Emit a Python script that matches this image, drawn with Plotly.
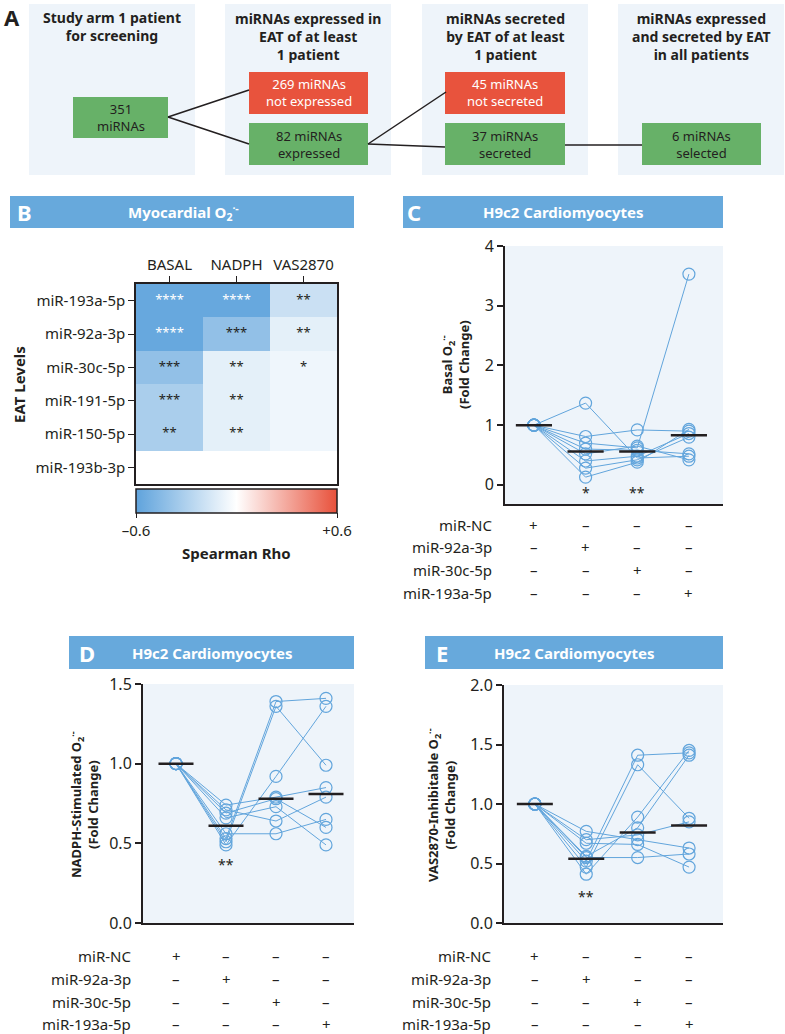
import plotly.graph_objects as go

W, H = 785, 1034
FONT = "Noto Sans"
DARK = "#231f20"
BLUE = "#62a5dc"
HEAD = "#67a9dc"
PANEL_BG = "#eef4fa"
GREEN = "#67b168"
RED = "#e8533d"


def fx(p):
    return p / W


def fy(p):
    return 1 - p / H


# ---- Panel A: flujo de selección
flow_titles = ["Study arm 1 patient<br>for screening",
               "miRNAs expressed in<br>EAT of at least<br>1 patient",
               "miRNAs secreted<br>by EAT of at least<br>1 patient",
               "miRNAs expressed<br>and secreted by EAT<br>in all patients"]
flow_counts = [351, 269, 82, 45, 37, 6]
flow_labels = ["<br>miRNAs", " miRNAs<br>not expressed", " miRNAs<br>expressed",
               " miRNAs<br>not secreted", " miRNAs<br>secreted", " miRNAs<br>selected"]

# ---- Panel B: heatmap
mirnas = ["miR-193a-5p", "miR-92a-3p", "miR-30c-5p", "miR-191-5p", "miR-150-5p", "miR-193b-3p"]
treatments = ["BASAL", "NADPH", "VAS2870"]
rho = [[-0.57, -0.57, -0.20],
       [-0.57, -0.41, -0.10],
       [-0.41, -0.10, -0.06],
       [-0.32, -0.10, -0.06],
       [-0.32, -0.10, -0.06],
       [0.0, 0.0, 0.0]]
stars = [["****", "****", "**"],
         ["****", "***", "**"],
         ["***", "**", "*"],
         ["***", "**", ""],
         ["**", "**", ""],
         ["", "", ""]]

# ---- Panels C-E
groups = [0, 1, 2, 3]
conditions = ["miR-NC", "miR-92a-3p", "miR-30c-5p", "miR-193a-5p"]

basal = [[1, 1.37, 0.45, 0.48],
         [1, 0.81, 0.92, 0.90],
         [1, 0.70, 0.62, 3.53],
         [1, 0.60, 0.58, 0.52],
         [1, 0.52, 0.65, 0.42],
         [1, 0.40, 0.48, 0.86],
         [1, 0.28, 0.42, 0.80],
         [1, 0.13, 0.38, 0.93]]
basal_median = [1.0, 0.56, 0.56, 0.83]
basal_sig = ["", "*", "**", ""]

nadph = [[1, 0.53, 1.39, 1.41],
         [1, 0.51, 1.36, 0.99],
         [1, 0.49, 0.92, 1.36],
         [1, 0.74, 0.79, 0.85],
         [1, 0.71, 0.64, 0.79],
         [1, 0.69, 0.78, 0.60],
         [1, 0.66, 0.73, 0.49],
         [1, 0.56, 0.56, 0.65]]
nadph_median = [1.0, 0.61, 0.78, 0.81]
nadph_sig = ["", "**", "", ""]

vas = [[1, 0.52, 1.41, 1.43],
       [1, 0.47, 1.33, 0.88],
       [1, 0.41, 0.89, 1.45],
       [1, 0.56, 0.80, 1.41],
       [1, 0.77, 0.70, 0.63],
       [1, 0.70, 0.74, 0.85],
       [1, 0.67, 0.66, 0.47],
       [1, 0.55, 0.55, 0.58]]
vas_median = [1.0, 0.54, 0.76, 0.82]
vas_sig = ["", "**", "", ""]

fig = go.Figure()
shapes = []
annotations = []


def text(x, y, t, size=13, color=DARK, bold=False, xanchor="center", yanchor="middle",
         xref="paper", yref="paper", angle=0):
    if bold:
        t = "<b>" + t + "</b>"
    annotations.append(dict(x=x, y=y, xref=xref, yref=yref, text=t, showarrow=False,
                            xanchor=xanchor, yanchor=yanchor, textangle=angle,
                            font=dict(size=size, color=color, family=FONT)))


def rect(x0, y0, x1, y1, fill):
    shapes.append(dict(type="rect", xref="paper", yref="paper", x0=fx(x0), x1=fx(x1),
                       y0=fy(y0), y1=fy(y1), fillcolor=fill, line=dict(width=0), layer="below"))


def seg(x0, y0, x1, y1):
    shapes.append(dict(type="line", xref="paper", yref="paper", x0=fx(x0), x1=fx(x1),
                       y0=fy(y0), y1=fy(y1), line=dict(color=DARK, width=1.5)))


# Panel A
text(fx(12), fy(17), "A", size=22, bold=True)
col_x = [29, 225, 422, 618]
for cx, t in zip(col_x, flow_titles):
    rect(cx, 4, cx + 166, 175, PANEL_BG)
    n = t.count("<br>") + 1
    text(fx(cx + 83), fy(17 + (n - 1) * 10), t, size=14, bold=True)

boxes = [(73, 97, 168, 138, GREEN), (249, 72, 368, 114, RED), (249, 123, 368, 165, GREEN),
         (445, 72, 565, 114, RED), (445, 123, 565, 165, GREEN), (642, 123, 761, 165, GREEN)]
for (x0, y0, x1, y1, c), n, lab in zip(boxes, flow_counts, flow_labels):
    rect(x0, y0, x1, y1, c)
    text(fx((x0 + x1) / 2), fy((y0 + y1) / 2), f"{n}{lab}", size=13,
         color="white" if c == RED else DARK)
seg(168, 117, 249, 90)
seg(168, 117, 249, 144)
seg(368, 144, 446, 92)
seg(368, 144, 445, 147)
seg(565, 145, 642, 145)

# Panel headers
headers = [(10, 354, 196, 228, "B", 24, "Myocardial O<sub>2</sub><sup>·-</sup>", 183),
           (403, 723, 196, 228, "C", 414, "H9c2 Cardiomyocytes", 563),
           (69, 354, 636, 669, "D", 87, "H9c2 Cardiomyocytes", 212),
           (425, 723, 636, 669, "E", 442, "H9c2 Cardiomyocytes", 574)]
for x0, x1, y0, y1, letter, lx, title, tx in headers:
    rect(x0, y0, x1, y1, HEAD)
    text(fx(lx), fy((y0 + y1) / 2), letter, size=22, color="white", bold=True)
    text(fx(tx), fy((y0 + y1) / 2), title, size=15, color="white", bold=True)

# Panel B heatmap
fig.add_trace(go.Heatmap(
    z=rho, x=treatments, y=mirnas, zmin=-0.6, zmax=0.6, xaxis="x", yaxis="y",
    colorscale=[[0, "#5fa3dc"], [0.5, "#ffffff"], [1, "#e8513b"]],
    hoverinfo="skip",
    colorbar=dict(orientation="h", thickness=24, thicknessmode="pixels",
                  len=201, lenmode="pixels", x=fx(236.5), xanchor="center",
                  y=fy(489), yanchor="top", xpad=0, ypad=0,
                  outlinewidth=1.5, outlinecolor=DARK,
                  tickvals=[-0.6, 0.6], ticktext=["–0.6", "+0.6"],
                  ticks="outside", ticklen=5, tickcolor=DARK,
                  tickfont=dict(size=15, color=DARK, family=FONT))))
text(fx(236), fy(553), "Spearman Rho", size=15, bold=True)

# asteriscos, solo en las celdas que los tienen
sx, sy, st, sc = [], [], [], []
for i, m in enumerate(mirnas):
    for j, t in enumerate(treatments):
        if not stars[i][j]:
            continue
        sx.append(t)
        sy.append(m)
        st.append(stars[i][j])
        sc.append("white" if rho[i][j] <= -0.5 else DARK)
fig.add_trace(go.Scatter(x=sx, y=sy, text=st, mode="text", xaxis="x", yaxis="y",
                         textfont=dict(size=13, color=sc, family=FONT),
                         textposition="middle center", hoverinfo="skip", showlegend=False))

text(fx(19), fy(385), "EAT Levels", size=15, bold=True, angle=-90)

# Panels C-E
panels = [("x2", "y2", basal, basal_median, basal_sig, "Basal O<sub>2</sub><sup>·-</sup>",
           455, 365, 494, [525, 547, 570, 593], -0.13),
          ("x3", "y3", nadph, nadph_median, nadph_sig, "NADPH-Stimulated O<sub>2</sub><sup>·-</sup>",
           84, 805, 133, [956, 979, 1002, 1024], 0.37),
          ("x4", "y4", vas, vas_median, vas_sig, "VAS2870-Inhibitable O<sub>2</sub><sup>·-</sup>",
           441, 805, 493, [956, 979, 1002, 1024], 0.22)]

for xa, ya, data, med, sig, ytitle, tx, ty, lab_x, rows, sig_y in panels:
    for exp in data:
        fig.add_trace(go.Scatter(x=groups, y=exp, xaxis=xa, yaxis=ya, mode="lines+markers",
                                 line=dict(color=BLUE, width=1),
                                 marker=dict(symbol="circle-open", size=12, color=BLUE,
                                             line=dict(width=1.2, color=BLUE)),
                                 hoverinfo="skip", showlegend=False))
    mx, my = [], []
    for g, m in zip(groups, med):
        mx += [g - 0.35, g + 0.35, None]
        my += [m, m, None]
    fig.add_trace(go.Scatter(x=mx, y=my, xaxis=xa, yaxis=ya, mode="lines",
                             line=dict(color=DARK, width=2.5), hoverinfo="skip", showlegend=False))
    for g, s in zip(groups, sig):
        if s:
            text(g, sig_y, s, size=14, xref=xa, yref=ya)
    text(fx(tx), fy(ty), ytitle + "<br>(Fold Change)", size=13, bold=True, angle=-90)
    for r, (cond, rowy) in enumerate(zip(conditions, rows)):
        text(fx(lab_x), fy(rowy), cond, size=15, xanchor="right")
        for g in groups:
            text(g, fy(rowy), "+" if g == r else "–", size=15, xref=xa)

axis_common = dict(showgrid=False, zeroline=False, linecolor=DARK, color=DARK)
fig.update_layout(
    width=W, height=H, margin=dict(l=0, r=0, t=0, b=0, pad=0, autoexpand=False),
    paper_bgcolor="white", plot_bgcolor=PANEL_BG,
    font=dict(family=FONT, color=DARK),
    showlegend=False,
    shapes=shapes, annotations=annotations,
    xaxis=dict(domain=[fx(136), fx(337)], anchor="y", side="top", type="category",
               ticks="outside", ticklen=6, tickcolor=DARK, showline=True, mirror=True,
               linewidth=1.5, tickfont=dict(size=15), **axis_common),
    yaxis=dict(domain=[fy(484), fy(284)], anchor="x", type="category", autorange="reversed",
               ticks="outside", ticklen=6, tickcolor=DARK, showline=True, mirror=True,
               linewidth=1.5, tickfont=dict(size=15), **axis_common),
    xaxis2=dict(domain=[fx(505), fx(723)], anchor="y2", range=[-0.56, 3.66],
                showticklabels=False, showline=True, linewidth=2, **axis_common),
    yaxis2=dict(domain=[fy(504), fy(246)], anchor="x2", range=[-0.32, 4],
                tickvals=[0, 1, 2, 3, 4], ticks="outside", ticklen=6, tickwidth=2,
                tickcolor=DARK, showline=True, linewidth=2, tickfont=dict(size=16), **axis_common),
    xaxis3=dict(domain=[fx(143), fx(354)], anchor="y3", range=[-0.66, 3.56],
                showticklabels=False, showline=True, linewidth=2, **axis_common),
    yaxis3=dict(domain=[fy(923), fy(684)], anchor="x3", range=[0, 1.5],
                tickvals=[0, 0.5, 1, 1.5], ticktext=["0.0", "0.5", "1.0", "1.5"],
                ticks="outside", ticklen=6, tickwidth=2, tickcolor=DARK,
                showline=True, linewidth=2, tickfont=dict(size=16), **axis_common),
    xaxis4=dict(domain=[fx(504), fx(723)], anchor="y4", range=[-0.6, 3.66],
                showticklabels=False, showline=True, linewidth=2, **axis_common),
    yaxis4=dict(domain=[fy(923), fy(685)], anchor="x4", range=[0, 2],
                tickvals=[0, 0.5, 1, 1.5, 2], ticktext=["0.0", "0.5", "1.0", "1.5", "2.0"],
                ticks="outside", ticklen=6, tickwidth=2, tickcolor=DARK,
                showline=True, linewidth=2, tickfont=dict(size=16), **axis_common),
)

fig.write_html("out.html", config={"displayModeBar": False},
               post_script="document.body.style.margin='0';")
